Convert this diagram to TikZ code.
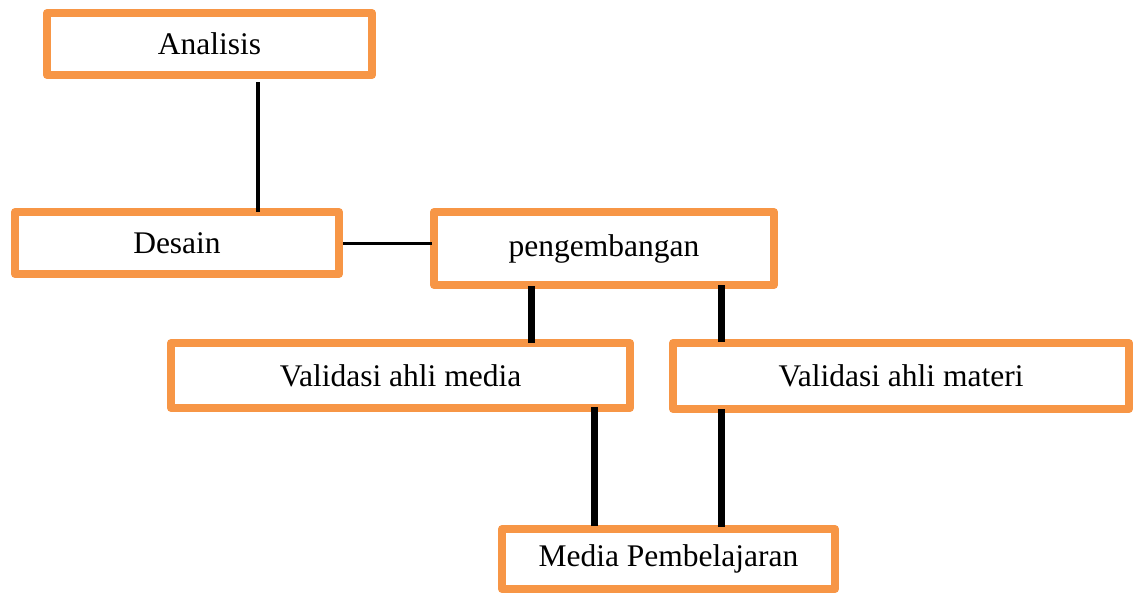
\documentclass[tikz,border=0pt]{standalone}
\usepackage{fontspec}
\setmainfont{Liberation Serif}
\definecolor{boxorange}{HTML}{F79646}
\tikzset{
  stagebox/.style={draw=boxorange, line width=8pt, fill=white, line join=round,
    outer sep=0pt, inner sep=0pt, font=\fontsize{31.5}{38}\selectfont},
  thinlink/.style={draw=black, line width=3.6pt},
  thicklink/.style={draw=black, line width=7pt},
}
\begin{document}
\begin{tikzpicture}[x=1pt, y=-1pt]
\useasboundingbox (0,0) rectangle (1133,592);

% stages
\node[stagebox, minimum width=325pt, minimum height=62pt] (an) at (209.5,44)  {Analisis};
\node[stagebox, minimum width=324pt, minimum height=62pt] (de) at (177,243)   {Desain};
\node[stagebox, minimum width=340pt, minimum height=73pt] (pe) at (604,248.5) {pengembangan};
\node[stagebox, minimum width=459pt, minimum height=65pt] (vm) at (400.5,375.5) {Validasi ahli media};
\node[stagebox, minimum width=456pt, minimum height=66pt] (vt) at (901,376)   {Validasi ahli materi};
\node[stagebox, minimum width=333pt, minimum height=60pt] (mp) at (668.5,559) {Media Pembelajaran};

% links between stages
\draw[thinlink] ([shift={(48.5,7)}]an.south) -- ([shift={(81,0)}]de.north);
\draw[thinlink] ([shift={(4,0.5)}]de.east) -- ([shift={(-2,0.5)}]de.east -| pe.west);
\draw[thicklink] ([shift={(-73,1)}]pe.south) -- ([shift={(130.5,0)}]vm.north);
\draw[thicklink] ([shift={(117,0)}]pe.south) -- ([shift={(-180,-1)}]vt.north);
\draw[thicklink] ([shift={(194,-1)}]vm.south) -- ([shift={(-74,-3)}]mp.north);
\draw[thicklink] ([shift={(-180,0)}]vt.south) -- ([shift={(52.5,-2)}]mp.north);
\end{tikzpicture}
\end{document}
